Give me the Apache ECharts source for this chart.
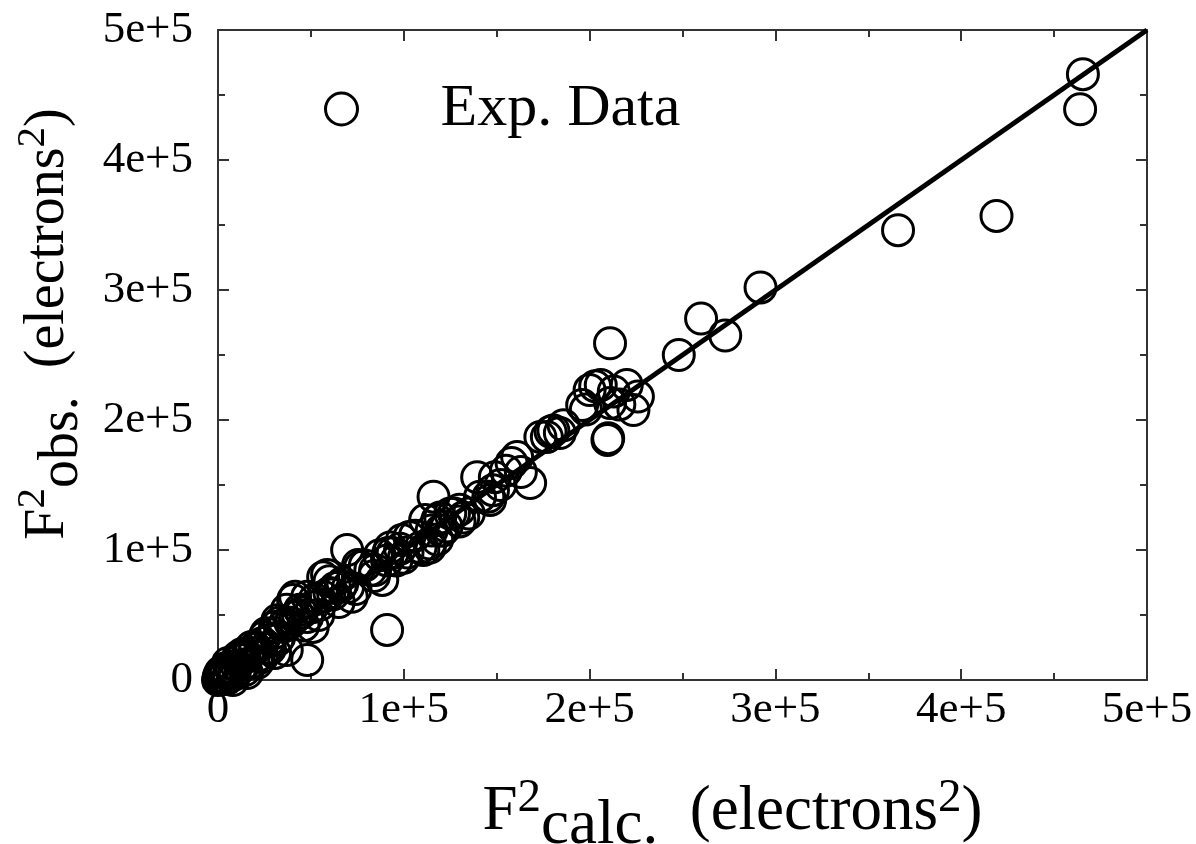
<!DOCTYPE html>
<html>
<head>
<meta charset="utf-8">
<script src="https://cdn.jsdelivr.net/npm/echarts@6/dist/echarts.min.js"></script>
<style>
html,body{margin:0;padding:0;background:#fff;}
#chart{width:1196px;height:844px;}
</style>
</head>
<body>
<div id="chart"></div>
<script>
// F^2 calc. values (electrons^2)
var fCalc = [
  465500, 464000, 419000, 366000, 292000, 273000, 260000, 248000, 211000, 210000,
  196000, 206000, 213000, 220000, 223600, 209600, 200000, 211000, 203000, 216000, 226000, 198000,
  179000, 173500, 180500, 184000, 177000, 186000,
  161000, 158000, 168000, 163000, 155000,
  139500, 148000, 146500, 141000, 149000, 145500, 152000,
  132000, 130000, 116000, 119600, 121000, 114000, 115000, 118000, 130000, 125000,
  92700, 96000, 91000, 110500, 114000, 99000, 91600, 84600, 88400, 103000, 109000, 111500, 118000, 87000, 94000,
  69500, 76500, 67000, 56600, 82000, 56600, 48000, 44000, 48000, 51000, 91000, 63000, 72000, 58700, 75400, 70000, 60000,
  33000, 30000, 48000, 24000, 17000, 12000, 6500, 1000, 33000, 37000, 21000, 15600, 8000,
  26000, 32000, 37000, 40400, 50600, 41500, 41500, 30700, 25000, 18000, 10800, 5400, 32000, 23700, 30700, 14500,
  0, 1000, 2000, 3000, 500, 4000, 6000, 2000, 7000, 9000, 10000, 12000, 5000, 14000, 16000, 20000, 22000, 27000, 3500, 8500,
  79000, 84000, 65000, 54000, 45000, 36000, 28000, 20000, 13000, 102000, 106000, 123000, 127000, 135000, 98000, 60000, 52000, 39000, 100000, 120000,
  35000, 43000, 55000, 62000, 28000, 19000, 11000, 4000, 1500, 66000, 74000, 46000
];
// F^2 obs. values (electrons^2)
var fObs = [
  466000, 439000, 357000, 346000, 302000, 265000, 278000, 250000, 259000, 186000,
  211500, 227000, 222000, 227000, 207700, 184600, 223000, 213000, 226000, 212000, 218000, 208000,
  191000, 187000, 192000, 190000, 187000, 196000,
  171500, 167000, 151500, 160000, 161000,
  156000, 146000, 138500, 141000, 156000, 141000, 150000,
  125000, 131000, 141000, 125000, 115000, 105000, 115000, 123000, 122000, 128000,
  102000, 92000, 92000, 100000, 102000, 107700, 97700, 84600, 77000, 110000, 102000, 123000, 108000, 96000, 97700,
  100000, 87000, 74600, 79000, 84600, 64000, 64000, 54000, 48500, 40800, 38500, 70800, 64000, 80800, 88500, 71500, 67000,
  44000, 36000, 15400, 28500, 20800, 15400, 10000, 2300, 33000, 23000, 13000, 5400, 0,
  36000, 46000, 54000, 61500, 56000, 48500, 64000, 40800, 33000, 25400, 17700, 13000, 30800, 17700, 20800, 7700,
  0, 1000, 500, 2000, 3000, 5000, 4000, 6000, 8000, 6000, 11000, 9000, 1000, 12000, 18000, 24000, 19000, 25000, 7000, 4000,
  88000, 80000, 60000, 50000, 52000, 43000, 31000, 25000, 20000, 98000, 111000, 118000, 128000, 128000, 101000, 76000, 62000, 44000, 94000, 115000,
  41000, 50000, 58000, 66000, 24000, 14000, 16000, 9000, 6000, 72000, 70000, 42000
];
var xTicks = [0, 100000, 200000, 300000, 400000, 500000];
var yTicks = [0, 100000, 200000, 300000, 400000, 500000];
var fitLine = [[0, 0], [500000, 500000]];

var points = fCalc.map(function (x, i) { return [x, fObs[i]]; });

function tickFmt(v) { return v === 0 ? '0' : (v / 100000) + 'e+5'; }

var serif = 'Liberation Serif';
var axisColor = '#333';

function titleRich(size, padW) {
  return {
    pad: { fontFamily: serif, fontSize: size, color: '#000', verticalAlign: 'bottom', width: padW, padding: [0, 0, 14, 0] },
    f: { fontFamily: serif, fontSize: size, color: '#000', verticalAlign: 'bottom', padding: [0, 0, 14, 0] },
    sup: { fontFamily: serif, fontSize: Math.round(size * 0.74), color: '#000', verticalAlign: 'bottom', padding: [0, 0, 36, 0] },
    sub: { fontFamily: serif, fontSize: size, color: '#000', verticalAlign: 'bottom', padding: [0, 0, 0, 0] }
  };
}

function makeAxis(pos, extra) {
  var a = {
    type: 'value', position: pos,
    min: 0, max: 500000, interval: 100000,
    axisLine: { show: true, onZero: false, lineStyle: { color: axisColor, width: 2 } },
    axisTick: { show: true, inside: true, length: 11, lineStyle: { color: axisColor, width: 2 } },
    minorTick: { show: true, splitNumber: 2, length: 7, lineStyle: { color: axisColor, width: 2 } },
    splitLine: { show: false },
    axisLabel: { show: false }
  };
  for (var k in extra) a[k] = extra[k];
  return a;
}

var chart = echarts.init(document.getElementById('chart'), null, { renderer: 'canvas' });
chart.setOption({
  animation: false,
  backgroundColor: '#fff',
  grid: { left: 218, top: 30, right: 49, bottom: 164, containLabel: false, outerBoundsMode: 'none' },
  legend: {
    left: 319, top: 74,
    itemWidth: 32, itemHeight: 32,
    data: [{ name: 'Exp. Data', icon: 'circle' }],
    itemStyle: { color: 'transparent', borderColor: '#000', borderWidth: 3 },
    textStyle: { fontFamily: serif, fontSize: 60, color: '#000', padding: [0, 0, 0, 78] }
  },
  xAxis: [
    makeAxis('bottom', {
      axisLabel: { formatter: tickFmt, fontFamily: serif, fontSize: 45, color: '#000', margin: 8 },
      name: '{pad|}{f|F}{sup|2}{sub|calc.}{f|  (electrons}{sup|2}{f|)}',
      nameLocation: 'middle', nameGap: 95,
      nameTextStyle: { rich: titleRich(63, 100) }
    }),
    makeAxis('top', {})
  ],
  yAxis: [
    makeAxis('left', {
      axisLabel: { formatter: tickFmt, fontFamily: serif, fontSize: 45, color: '#000', margin: 25 },
      name: '{pad|}{f|F}{sup|2}{sub|obs.}{f|  (electrons}{sup|2}{f|)}',
      nameLocation: 'middle', nameGap: 128, nameRotate: 90,
      nameTextStyle: { rich: titleRich(56, 62) }
    }),
    makeAxis('right', {})
  ],
  series: [
    {
      name: 'fit', type: 'line', data: fitLine, xAxisIndex: 0, yAxisIndex: 0,
      showSymbol: false, symbol: 'none', lineStyle: { color: '#000', width: 5 }, z: 3
    },
    {
      name: 'Exp. Data', type: 'scatter', data: points, xAxisIndex: 0, yAxisIndex: 0,
      symbol: 'circle', symbolSize: 31,
      itemStyle: { color: 'transparent', borderColor: '#000', borderWidth: 3, opacity: 1 },
      z: 4
    }
  ]
});
</script>
</body>
</html>
